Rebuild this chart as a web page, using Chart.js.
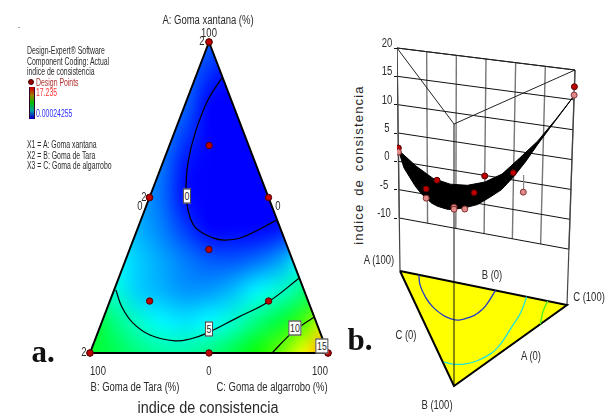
<!DOCTYPE html>
<html>
<head>
<meta charset="utf-8">
<script src="https://cdn.jsdelivr.net/npm/chart.js@4/dist/chart.umd.min.js"></script>
<style>
  html, body { margin: 0; background: #fff; overflow: hidden; }
  #page { position: relative; width: 616px; height: 415px; overflow: hidden; }
  canvas { position: absolute; top: 0; }
  .t { position: absolute; white-space: nowrap; color: #2a2a2a; font-family: "Liberation Sans", sans-serif; line-height: 1; }
  .box { background: #fff; border: 1px solid #222; padding: 1px 1px; }
</style>
</head>
<body>
<div id="page">
  <canvas id="ternary" width="345" height="415" style="left:0"></canvas>
  <canvas id="surface" width="246" height="415" style="left:370px"></canvas>
  <div id="colorbar" style="position:absolute;left:29px;top:87px;width:4px;height:30px;background:linear-gradient(#d00000,#a08000,#00c000,#00a0a0,#0000d0);border:1px solid;border-color:#c00000 #300030 #0000c0"></div>
  <div id="legendDot" style="position:absolute;left:28px;top:79px;width:4px;height:4px;border-radius:50%;background:#a00000;border:1px solid #400000"></div>
</div>
<script>
// design runs, percent of each gum
const runA = [100, 100, 50, 50, 0, 0, 0, 0, 33.3, 16.7, 66.7, 50, 0, 16.7];
const runB = [0, 0, 50, 50, 100, 100, 0, 0, 33.3, 66.7, 16.7, 0, 50, 16.7];
const runC = [0, 0, 0, 0, 0, 0, 100, 100, 33.3, 16.7, 16.7, 50, 50, 66.7];
const runZ = [2.35, 1.65, 3.3, 1.8, 7.5, 7.2, 17.2, 15.8, 1.6, 3.3, 0.33, -0.1, 8.0, 0.68];
const runFit = [2.0, 2.0, 2.3, 2.3, 7.6, 7.6, 16, 16, 1.0, 3.6, 0, -1.15, 7.3, 3.5];

// contour lines, A and C percent (B is the rest)
const contour0A = [88.7, 81.4, 70.7, 61.1, 51.4, 46, 40.5, 37, 36.3, 37.3, 42.8];
const contour0C = [11.3, 8.9, 8.8, 10.6, 14.6, 18.2, 23.9, 33.2, 38.6, 45.6, 57.2];
const contour5A = [20.3, 14.8, 9.6, 5.8, 3.9, 4.5, 6.4, 11.3, 16.4, 24.1];
const contour5C = [0.7, 6, 13.3, 22.3, 33.8, 39.8, 46, 56.1, 66.6, 75.9];
const contour10A = [0, 6.8, 11.6];
const contour10C = [76.5, 81.9, 88.4];

// response: rows A = 100..0, columns (C-B)/2 = -50..50
const heatRows = [
  [2.0, 2.0, 2.0, 2.0, 2.0, 1.6, 1.2, 1.0, 1.0, 1.0, 1.0],
  [2.4, 2.4, 2.4, 2.3, 2.0, 0.8, 0.1, -0.1, -0.2, -0.2, -0.2],
  [2.6, 2.6, 2.6, 2.4, 1.7, 0.0, -0.5, -0.6, -0.6, -0.6, -0.6],
  [2.8, 2.8, 2.7, 2.3, 1.0, -0.5, -0.9, -0.9, -0.9, -0.9, -0.9],
  [3.0, 3.0, 2.8, 2.0, 0.3, -0.9, -1.2, -1.1, -1.0, -1.0, -1.0],
  [3.4, 3.3, 2.8, 1.9, 0.2, -0.9, -1.3, -1.2, -0.8, -0.6, -0.5],
  [4.0, 3.7, 3.0, 2.2, 1.0, -0.3, -0.2, -0.2, 0.3, 1.5, 2.0],
  [5.0, 4.3, 3.5, 2.8, 2.1, 1.5, 1.4, 1.8, 2.7, 4.5, 5.5],
  [6.0, 5.0, 3.5, 3.0, 2.5, 2.6, 3.2, 4.2, 5.1, 6.5, 8.0],
  [8.0, 6.5, 5.2, 4.2, 3.9, 4.3, 5.1, 6.5, 7.7, 9.8, 13.0],
  [7.8, 7.3, 6.5, 5.9, 5.8, 6.4, 7.4, 8.8, 10.5, 13.0, 15.0]
];
const heatMax = 17.235;

// surface height along the three edges of the mixture triangle, every 10%
const edgeAB = [2.0, 0.5, 0.6, 0.7, 1.1, 1.8, 2.5, 3.5, 4.65, 5.8, 7.2];
const edgeBC = [7.2, 6.5, 6.0, 6.1, 6.3, 7.3, 8.7, 10.5, 12.2, 13.9, 15.7];
const edgeCA = [15.7, 11.3, 7.2, 3.9, 0.7, -1.15, -2.2, -2.5, -2.0, -0.3, 2.0];

const zTicks = [-10, -5, 0, 5, 10, 15, 20];
const wallSteps = [0, 1, 2, 3, 4, 5, 6];

const RED = '#c00000', PINK = '#e08a8a';

function colorFor(v) {
  const t = Math.max(0, Math.min(1, v / heatMax)) * 4;
  const stops = [[0, 0, 255], [0, 255, 255], [0, 255, 0], [255, 255, 0], [255, 0, 0]];
  const i = Math.min(3, Math.floor(t)), f = t - i;
  const c = stops[i].map((s, k) => Math.round(s + (stops[i + 1][k] - s) * f));
  return `rgb(${c[0]},${c[1]},${c[2]})`;
}

function ternPoint(a, c) {
  const b = 100 - a - c;
  return { x: (c - b) / 2, y: a };
}

function line(data, color, width, extra) {
  return Object.assign({ data, borderColor: color, borderWidth: width, showLine: true, pointRadius: 0, fill: false }, extra);
}

function contourData(aa, cc) { return aa.map((a, i) => ternPoint(a, cc[i])); }

// colour field, drawn under everything and clipped to the triangle
const heatPlugin = {
  id: 'heat',
  beforeDatasetsDraw(chart) {
    const sx = chart.scales.x, sy = chart.scales.y, ctx = chart.ctx;
    const off = document.createElement('canvas');
    off.width = 11; off.height = 11;
    const o = off.getContext('2d');
    heatRows.forEach((row, r) => row.forEach((v, c) => {
      o.fillStyle = colorFor(v);
      o.fillRect(c, r, 1, 1);
    }));
    const x0 = sx.getPixelForValue(-50), x1 = sx.getPixelForValue(50);
    const y0 = sy.getPixelForValue(100), y1 = sy.getPixelForValue(0);
    ctx.save();
    ctx.beginPath();
    ctx.moveTo(sx.getPixelForValue(0), y0);
    ctx.lineTo(x0, y1);
    ctx.lineTo(x1, y1);
    ctx.closePath();
    ctx.clip();
    ctx.imageSmoothingEnabled = true;
    ctx.imageSmoothingQuality = 'high';
    ctx.drawImage(off, 0.5, 0.5, 10, 10, x0, y0, x1 - x0, y1 - y0);
    ctx.restore();
  }
};

new Chart(document.getElementById('ternary'), {
  type: 'scatter',
  plugins: [heatPlugin],
  data: {
    datasets: [
      { data: runA.map((a, i) => ternPoint(a, runC[i])), backgroundColor: RED, borderColor: '#500000', borderWidth: 1, pointRadius: 3.2 },
      line([ternPoint(100, 0), ternPoint(0, 0), ternPoint(0, 100), ternPoint(100, 0)], '#000', 2),
      line(contourData(contour0A, contour0C), '#000', 1.2, { tension: 0.4 }),
      line(contourData(contour5A, contour5C), '#000', 1.2, { tension: 0.4 }),
      line(contourData(contour10A, contour10C), '#000', 1.2, { tension: 0.4 })
    ]
  },
  options: {
    responsive: false, animation: false, events: [],
    layout: { autoPadding: false },
    plugins: { legend: { display: false }, tooltip: { enabled: false } },
    scales: {
      x: { type: 'linear', display: false, min: -87.82, max: 57.14 },
      y: { type: 'linear', display: false, min: -19.94, max: 113.5 }
    }
  }
});

// screen position of the three corners, floor and top of the box
const cornerA = { fx: 400, fy: 271, tx: 397, ty: 48 };
const cornerB = { fx: 454, fy: 386, tx: 454, ty: 124 };
const cornerC = { fx: 567, fy: 305, tx: 575, ty: 70 };
const zFloor = -19.35, zTop = 20;

function project(a, b, c, z) {
  const t = (z - zFloor) / (zTop - zFloor);
  const mix = k => (a * cornerA[k] + b * cornerB[k] + c * cornerC[k]) / 100;
  return { x: mix('fx') + (mix('tx') - mix('fx')) * t, y: mix('fy') + (mix('ty') - mix('fy')) * t };
}

const floorContour = (aa, cc) => aa.map((a, i) => project(a, 100 - a - cc[i], cc[i], zFloor));

// closed outline of the surface: A -> B -> C -> A
const surfaceOutline = [
  ...edgeAB.map((z, i) => project(100 - i * 10, i * 10, 0, z)),
  ...edgeBC.map((z, i) => project(0, 100 - i * 10, i * 10, z)),
  ...edgeCA.map((z, i) => project(i * 10, 0, 100 - i * 10, z))
];

const wallLevels = zTicks.map(z => line([project(100, 0, 0, z), project(0, 0, 100, z)], '#111', 1));
const wallVerticals = wallSteps.map(k => {
  const c = k * 100 / 6;
  return line([project(100 - c, 0, c, -10), project(100 - c, 0, c, 20)], '#777', 1.4);
});
const stems = runA.map((a, i) => line([project(a, runB[i], runC[i], runZ[i]), project(a, runB[i], runC[i], runFit[i])], '#888', 1.2));

const surfaceChart = new Chart(document.getElementById('surface'), {
  type: 'scatter',
  data: {
    datasets: [
      { data: runA.map((a, i) => project(a, runB[i], runC[i], runZ[i])),
        backgroundColor: runZ.map((z, i) => z >= runFit[i] ? RED : PINK),
        borderColor: runZ.map((z, i) => z >= runFit[i] ? '#500000' : '#803030'),
        borderWidth: 1, pointRadius: 3 },
      line(surfaceOutline, '#000', 1, { fill: 'shape', backgroundColor: '#000' }),
      ...stems,
      line([project(0, 100, 0, zFloor), project(0, 100, 0, 20)], '#111', 1),
      line(floorContour(contour0A, contour0C), '#2438c8', 1.3, { tension: 0.4 }),
      line(floorContour(contour5A, contour5C), '#20e0e0', 1.3, { tension: 0.4 }),
      line(floorContour(contour10A, contour10C), '#40f020', 1.3, { tension: 0.4 }),
      line([project(100, 0, 0, zFloor), project(0, 100, 0, zFloor), project(0, 0, 100, zFloor), project(100, 0, 0, zFloor)], '#000', 2,
        { fill: 'shape', backgroundColor: '#ffff00' }),
      line([project(100, 0, 0, 20), project(0, 100, 0, 20), project(0, 0, 100, 20), project(100, 0, 0, 20)], '#222', 1),
      line([project(100, 0, 0, zFloor), project(100, 0, 0, 20)], '#444', 1.2),
      line([project(0, 0, 100, zFloor), project(0, 0, 100, 20)], '#444', 1.2),
      ...wallLevels,
      ...wallVerticals
    ]
  },
  options: {
    responsive: false, animation: false, events: [],
    layout: { autoPadding: false },
    plugins: { legend: { display: false }, tooltip: { enabled: false } },
    scales: {
      x: { type: 'linear', display: false, min: 397, max: 616 },
      y: { type: 'linear', display: false, min: 0, max: 415, reverse: true },
      z: {
        type: 'linear', position: 'left', min: -44.76, max: 28.47,
        afterBuildTicks(scale) { scale.ticks = zTicks.map(v => ({ value: v })); },
        afterFit(scale) { scale.width = 27; },
        border: { display: false },
        grid: { drawOnChartArea: false, color: '#111', tickLength: 3 },
        ticks: { display: false }
      }
    }
  }
});

// texts: anchored at centre unless left-aligned, squeezed to the narrow face of the original
const page = document.getElementById('page');
function addText(text, x, y, size, opts) {
  opts = opts || {};
  const d = document.createElement('div');
  d.className = 't' + (opts.box ? ' box' : '');
  d.textContent = text;
  d.style.left = x + 'px';
  d.style.top = y + 'px';
  d.style.fontSize = size + 'px';
  if (opts.color) d.style.color = opts.color;
  if (opts.family) d.style.fontFamily = opts.family;
  if (opts.weight) d.style.fontWeight = opts.weight;
  if (opts.spacing) d.style.letterSpacing = opts.spacing;
  if (opts.wordSpacing) d.style.wordSpacing = opts.wordSpacing;
  const sq = opts.squeeze || 1;
  if (opts.left) {
    d.style.transformOrigin = '0 50%';
    d.style.transform = `translateY(-50%) scaleX(${sq})`;
  } else {
    d.style.transform = `translate(-50%,-50%) ${opts.rotate ? `rotate(${opts.rotate}deg)` : ''} scaleX(${sq})`;
  }
  page.appendChild(d);
}

const SERIF = '"Liberation Serif", serif';
const LEGEND = { left: true, squeeze: 0.69 };
const AXIS = { squeeze: 0.79 };

[['Design-Expert® Software', 51], ['Component Coding: Actual', 62], ['indice de consistencia', 72],
 ['X1 = A: Goma xantana', 145], ['X2 = B: Goma de Tara', 156], ['X3 = C: Goma de algarrobo', 166]]
  .forEach(l => addText(l[0], 27, l[1], 10, LEGEND));
addText('Design Points', 36, 83, 10, { ...LEGEND, color: '#b03030' });
addText('17.235', 36, 93, 10, { ...LEGEND, color: '#ff3030' });
addText('0.00024255', 36, 114, 10, { ...LEGEND, color: '#3030ff' });
addText('.', 19, 25, 9);

addText('A: Goma xantana (%)', 208, 20, 12, AXIS);
addText('100', 209, 33, 12, AXIS);
addText('2', 202, 41, 12, AXIS);
addText('2', 144, 197, 12, AXIS);
addText('0', 140, 206, 12, AXIS);
addText('0', 278, 206, 12, AXIS);
addText('2', 84, 352, 12, AXIS);
addText('100', 98, 371, 12, AXIS);
addText('0', 209, 371, 12, AXIS);
addText('100', 320, 371, 12, AXIS);
addText('B: Goma de Tara (%)', 135, 387, 12, AXIS);
addText('C: Goma de algarrobo (%)', 272, 387, 12, AXIS);
addText('indice de consistencia', 208, 408, 16, { squeeze: 0.9 });

addText('0', 187, 196, 11, { box: true, squeeze: 0.8 });
addText('5', 209, 329, 11, { box: true, squeeze: 0.8 });
addText('10', 295, 328, 11, { box: true, squeeze: 0.8 });
addText('15', 322, 346, 11, { box: true, squeeze: 0.8 });

addText('indice de consistencia', 358, 165, 13, { rotate: -90, spacing: '1.2px', wordSpacing: '3px' });
addText('A (100)', 379, 260, 12, AXIS);
addText('B (0)', 492, 275, 12, AXIS);
addText('C (100)', 589, 297, 12, AXIS);
addText('C (0)', 406, 335, 12, AXIS);
addText('A (0)', 531, 356, 12, AXIS);
addText('B (100)', 437, 405, 12, AXIS);

addText('a.', 43, 351, 31, { family: SERIF, weight: 'bold', color: '#111' });
addText('b.', 360, 339, 31, { family: SERIF, weight: 'bold', color: '#111' });

// z tick labels sit on the real axis positions
const zScale = surfaceChart.scales.z;
zTicks.forEach(v => addText(String(v), 391 - (v < 0 ? 7 : 4), zScale.getPixelForValue(v) - 5, 12, AXIS));
</script>
</body>
</html>
